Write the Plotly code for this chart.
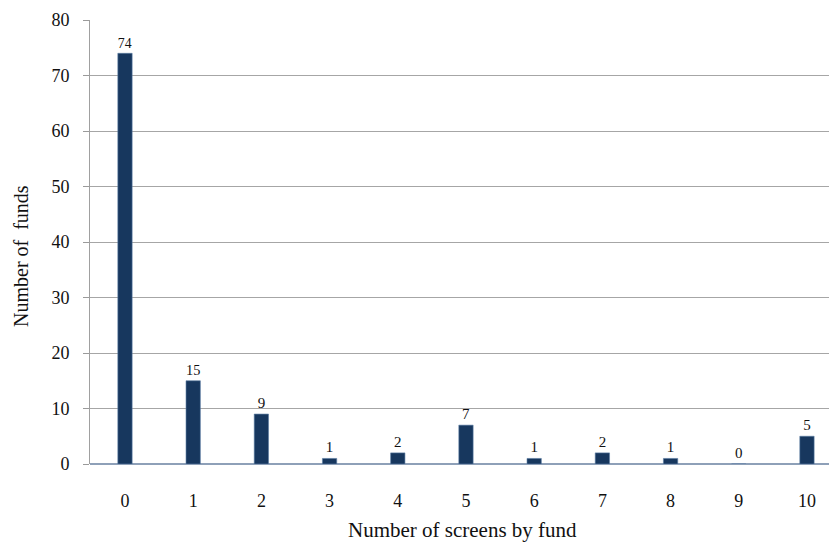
import plotly.graph_objects as go

# Distribution of funds by the number of screens they apply
screens = [0, 1, 2, 3, 4, 5, 6, 7, 8, 9, 10]
funds = [74, 15, 9, 1, 2, 7, 1, 2, 1, 0, 5]
y_ticks = [0, 10, 20, 30, 40, 50, 60, 70, 80]

SERIF = "Liberation Serif, Times New Roman, serif"
BAR = "#17375E"

W, H = 829, 542
L, R, T, B = 90, 0, 20, 78
PW, PH = W - L - R, H - T - B


def px_x(x):
    """Horizontal pixel position -> paper fraction."""
    return (x - L) / PW


def px_y(y):
    """Vertical pixel position (from top) -> paper fraction."""
    return (H - B - y) / PH


fig = go.Figure(
    go.Bar(
        x=screens,
        y=funds,
        text=[str(v) for v in funds],
        textposition="outside",
        textfont=dict(family=SERIF, size=15, color="#111111"),
        cliponaxis=False,
        width=0.21,
        marker=dict(color=BAR, line=dict(color="#5D7DA5", width=0.6)),
    )
)

fig.update_layout(
    width=W,
    height=H,
    margin=dict(l=L, r=R, t=T, b=B),
    paper_bgcolor="white",
    plot_bgcolor="white",
    showlegend=False,
    font=dict(family=SERIF, color="#111111"),
    xaxis=dict(
        range=[-0.513, 10.323],
        tickmode="array",
        tickvals=screens,
        ticktext=[str(s) for s in screens],
        tickfont=dict(size=18),
        ticks="",
        ticklabelstandoff=24,
        showgrid=False,
        zeroline=False,
        showline=False,
    ),
    yaxis=dict(
        range=[0, 80],
        tickmode="array",
        tickvals=y_ticks,
        tickfont=dict(size=18),
        ticks="outside",
        ticklen=6,
        tickcolor="#9A9A9A",
        ticklabelstandoff=10,
        showgrid=True,
        gridcolor="#A6A6A6",
        gridwidth=1,
        zeroline=True,
        zerolinecolor="#8EA0B8",
        zerolinewidth=1.5,
        showline=True,
        linecolor="#A0A0A0",
        linewidth=1,
    ),
    annotations=[
        dict(
            text="Number of screens by fund",
            xref="paper", yref="paper",
            x=px_x(462), y=px_y(530),
            xanchor="center", yanchor="middle",
            showarrow=False,
            font=dict(size=21),
        ),
        dict(
            text="Number of  funds",
            xref="paper", yref="paper",
            x=px_x(21), y=px_y(256),
            xanchor="center", yanchor="middle",
            showarrow=False,
            textangle=-90,
            font=dict(size=20),
        ),
    ],
)

fig.write_html("out.html")
